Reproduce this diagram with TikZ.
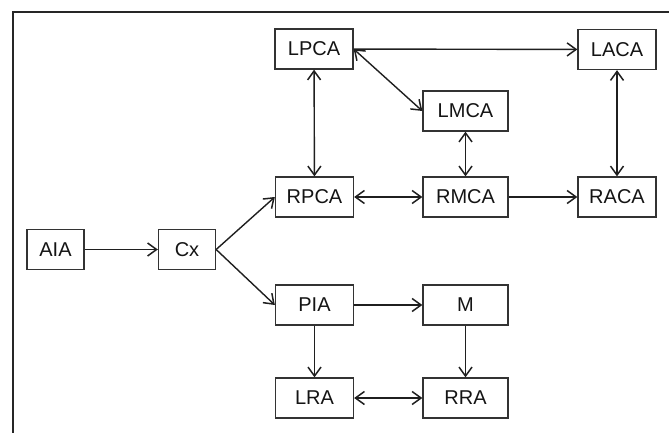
\documentclass[tikz,border=0pt]{standalone}
\usepackage{fontspec}
\setmainfont{Liberation Sans}
\usetikzlibrary{arrows.meta}
\begin{document}
\begin{tikzpicture}[x=1pt,y=-1pt,
  box/.style={draw=black!80, line width=1.3pt, minimum width=78pt, minimum height=40pt, inner sep=0pt, font=\fontsize{20pt}{22pt}\selectfont, text=black!92},
  wbox/.style={box, minimum width=85pt},
  sbox/.style={box, minimum width=57pt},
  conn/.style={draw=black!88, line width=1.4pt, arrows={-Straight Barb[length=9pt,width=13pt,line width=1.5pt]}},
  bconn/.style={conn, arrows={Straight Barb[length=9pt,width=13pt,line width=1.5pt]-Straight Barb[length=9pt,width=13pt,line width=1.5pt]}}]
\useasboundingbox (0,0) rectangle (669,433);
\draw[line width=2.2pt, black!85] (12.8,433) -- (12.8,11.7) -- (669,11.7);
\node[box]  (LPCA) at (314,49) {LPCA};
\node[box]  (LACA) at (617,49.5) {LACA};
\node[wbox] (LMCA) at (465.5,111) {LMCA};
\node[box]  (RPCA) at (314.5,197) {RPCA};
\node[wbox] (RMCA) at (465.5,197) {RMCA};
\node[box]  (RACA) at (617,197) {RACA};
\node[sbox] (AIA)  at (55.5,249.5) {AIA};
\node[sbox] (Cx)   at (187,249.5) {Cx};
\node[box]  (PIA)  at (314.5,305) {PIA};
\node[wbox] (M)    at (465.5,305) {M};
\node[box]  (LRA)  at (314.5,398) {LRA};
\node[wbox] (RRA)  at (465.5,398) {RRA};
\draw[conn] (AIA) -- (Cx);
\draw[conn] (Cx.east) -- (RPCA.west);
\draw[conn] (Cx.east) -- (PIA.west);
\draw[bconn] (LPCA) -- (RPCA);
\draw[conn] (LPCA) -- (LACA);
\draw[bconn] (LPCA.east) -- (LMCA.west);
\draw[bconn] (LMCA) -- (RMCA);
\draw[bconn] (LACA) -- (RACA);
\draw[bconn] (RPCA) -- (RMCA);
\draw[conn] (RMCA) -- (RACA);
\draw[conn] (PIA) -- (M);
\draw[conn] (PIA) -- (LRA);
\draw[conn] (M) -- (RRA);
\draw[bconn] (LRA) -- (RRA);
\end{tikzpicture}
\end{document}
